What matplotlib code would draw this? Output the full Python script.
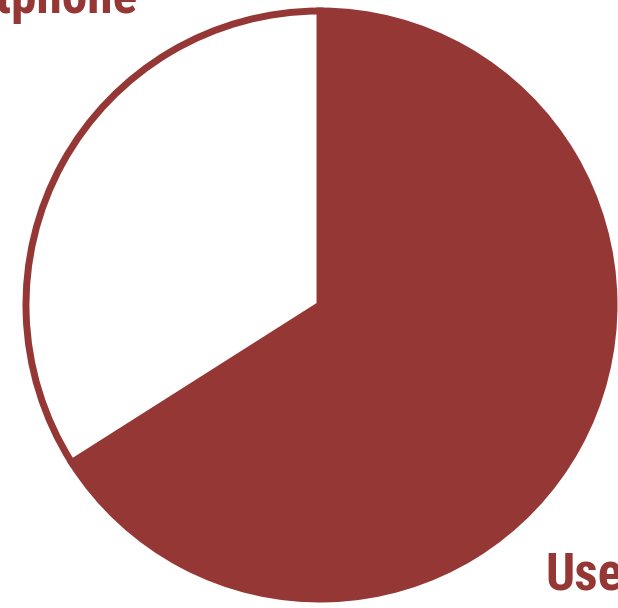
import matplotlib
matplotlib.use("Agg")
import matplotlib.pyplot as plt

labels = ["Users", "Smartphone"]
shares = [66, 34]
red = "#943735"

fig = plt.figure(figsize=(6.18, 6.08), dpi=100)
ax = fig.add_axes([0, 0, 1, 1])

ax.pie(shares, colors=[red, "white"], startangle=90, counterclock=False,
       center=(320, 303), radius=294,
       wedgeprops=dict(edgecolor=red, linewidth=5))

# pie resets the limits, so set them afterwards
ax.set_xlim(0, 618)
ax.set_ylim(0, 608)
ax.set_aspect("equal")
ax.axis("off")

font = ["Roboto Condensed", "Roboto", "DejaVu Sans"]
ax.text(545, 19, labels[0], color=red, fontsize=37, fontweight="bold",
        family=font, ha="left", va="baseline")
ax.text(137, 595, labels[1], color=red, fontsize=37, fontweight="bold",
        family=font, ha="right", va="baseline")

fig.savefig("out.png", dpi=100)
